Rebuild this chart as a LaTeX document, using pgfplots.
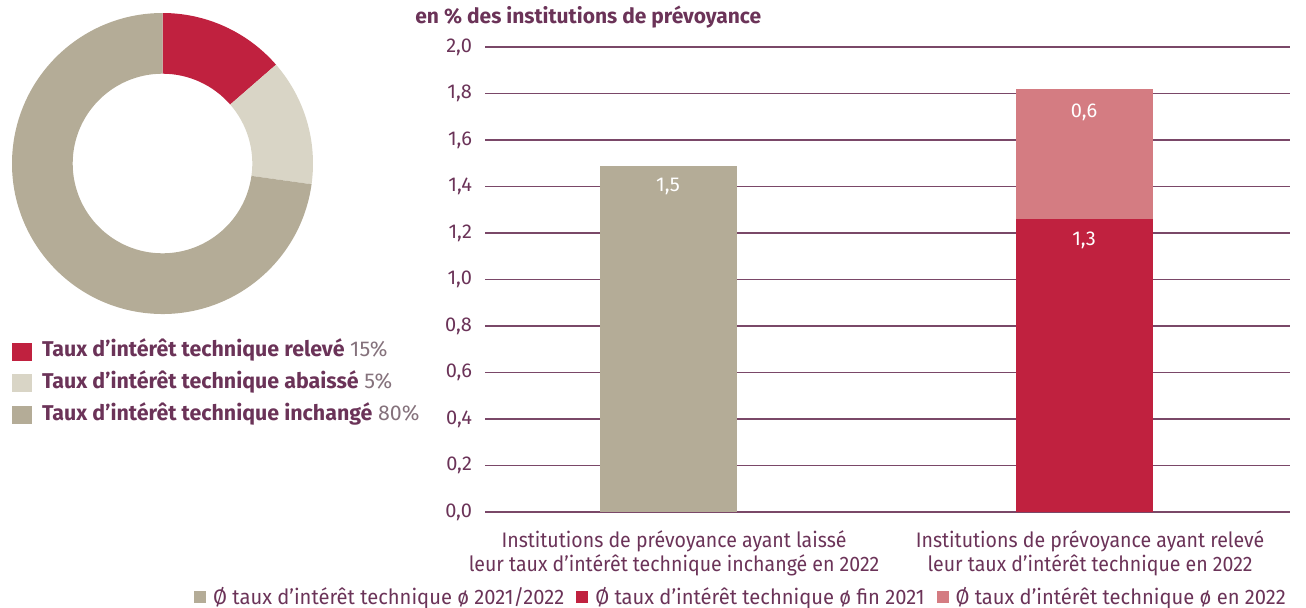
\documentclass[border=0pt]{standalone}
\usepackage{fontspec}
\setmainfont{Fira Sans}
\newfontfamily\condfont[FakeStretch=0.93]{Fira Sans}
\newfontfamily\legfont[FakeStretch=0.96]{Fira Sans}
\usepackage{pgfplots}
\pgfplotsset{compat=1.18}
\definecolor{cred}{HTML}{C0213F}
\definecolor{clight}{HTML}{D9D5C6}
\definecolor{ctan}{HTML}{B4AC97}
\definecolor{cpink}{HTML}{D47C82}
\definecolor{ctext}{HTML}{6B3358}
\definecolor{cgray}{HTML}{85727C}
\definecolor{cgrid}{HTML}{7A4868}
\begin{document}
\begin{tikzpicture}
\useasboundingbox (0,0) rectangle (653pt,303.5pt);
% ---------------- donut ----------------
\pgfmathsetmacro{\Ro}{75.25}
\pgfmathsetmacro{\Ri}{44.9}
\pgfmathsetmacro{\sA}{13.6}
\pgfmathsetmacro{\sB}{13.6}
\pgfmathsetmacro{\sC}{72.8}
\pgfmathsetmacro{\aA}{90-3.6*\sA}
\pgfmathsetmacro{\aB}{\aA-3.6*\sB}
\pgfmathsetmacro{\aC}{\aB-3.6*\sC}
\begin{axis}[at={(81.25pt,221.75pt)}, anchor=center, scale only axis,
  width=150.5pt, height=150.5pt, xmin=-1, xmax=1, ymin=-1, ymax=1, hide axis,
  legend cell align=left,
  legend style={at={(0,-0.095)}, anchor=north west, draw=none, fill=none,
    inner sep=0pt, outer sep=0pt, font=\fontsize{10.7}{11}\selectfont,
    text=ctext, row sep=6.9pt,
    nodes={inner sep=0pt, text height=7pt, text depth=2pt},
    /tikz/every odd column/.append style={column sep=5pt}},
  legend image code/.code={\fill[#1, draw=none] (0pt,-4.5pt) rectangle (10pt,4.5pt);}]
\addlegendimage{fill=cred, draw=none}
\addlegendentry{\textbf{Taux d’intérêt technique relevé} {\color{cgray}15\%}}
\addlegendimage{fill=clight, draw=none}
\addlegendentry{\textbf{Taux d’intérêt technique abaissé} {\color{cgray}5\%}}
\addlegendimage{fill=ctan, draw=none}
\addlegendentry{\textbf{Taux d’intérêt technique inchangé} {\color{cgray}80\%}}
\fill[cred] ([shift={(90:\Ro pt)}]axis cs:0,0) arc[start angle=90, end angle=\aA, radius=\Ro pt]
  -- ([shift={(\aA:\Ri pt)}]axis cs:0,0) arc[start angle=\aA, end angle=90, radius=\Ri pt] -- cycle;
\fill[clight] ([shift={(\aA:\Ro pt)}]axis cs:0,0) arc[start angle=\aA, end angle=\aB, radius=\Ro pt]
  -- ([shift={(\aB:\Ri pt)}]axis cs:0,0) arc[start angle=\aB, end angle=\aA, radius=\Ri pt] -- cycle;
\fill[ctan] ([shift={(\aB:\Ro pt)}]axis cs:0,0) arc[start angle=\aB, end angle=\aC, radius=\Ro pt]
  -- ([shift={(\aC:\Ri pt)}]axis cs:0,0) arc[start angle=\aC, end angle=\aB, radius=\Ri pt] -- cycle;
\end{axis}
% ---------------- bars ----------------
\node[anchor=west, text=ctext, font=\bfseries\fontsize{10.5}{12}\selectfont, inner sep=0pt] at (207.5pt,295pt) {en \% des institutions de prévoyance};
\begin{axis}[at={(242.5pt,47.5pt)}, anchor=south west, scale only axis,
  width=402.5pt, height=232.5pt, xmin=-0.44, xmax=1.495, ymin=0, ymax=2,
  ybar stacked, bar width=68.5pt,
  ytick={0,0.2,0.4,0.6,0.8,1,1.2,1.4,1.6,1.8,2},
  ymajorgrids, grid style={cgrid, line width=0.7pt},
  axis line style={draw=none}, major tick length=0pt,
  yticklabel style={/pgf/number format/fixed, /pgf/number format/fixed zerofill,
    /pgf/number format/precision=1, /pgf/number format/use comma,
    /pgf/number format/assume math mode=true,
    font=\fontsize{10}{12}\selectfont, text=ctext, xshift=-3pt},
  xtick={0,1},
  xticklabels={{Institutions de prévoyance ayant laissé\\leur taux d’intérêt technique inchangé en 2022},
               {Institutions de prévoyance ayant relevé\\leur taux d’intérêt technique en 2022}},
  xticklabel style={font=\condfont\fontsize{10.5}{10.5}\selectfont, align=center, text=ctext, yshift=-6pt, xshift=3pt},
  legend columns=3,
  legend style={at={(0.3168,-0.183)}, anchor=center, draw=none, fill=none, inner sep=0pt,
    font=\legfont\fontsize{10.5}{12}\selectfont, text=ctext,
    nodes={inner sep=0pt},
    /tikz/every odd column/.append style={column sep=3.5pt},
    /tikz/every even column/.append style={column sep=6pt}},
  legend image code/.code={\fill[#1] (0pt,-3pt) rectangle (6pt,3pt);}]
\addplot[fill=ctan, draw=none] coordinates {(0,1.49) (1,0)};
\addlegendentry{Ø taux d’intérêt technique ø 2021/2022}
\addplot[fill=cred, draw=none] coordinates {(0,0) (1,1.26)};
\addlegendentry{Ø taux d’intérêt technique ø fin 2021}
\addplot[fill=cpink, draw=none] coordinates {(0,0) (1,0.56)};
\addlegendentry{Ø taux d’intérêt technique ø en 2022}
\coordinate (LA) at (axis cs:0,1.49);
\coordinate (LB) at (axis cs:1,1.26);
\coordinate (LC) at (axis cs:1,1.82);
\end{axis}
\node[text=white, font=\fontsize{10}{12}\selectfont, yshift=-10.5pt] at (LA) {1,5};
\node[text=white, font=\fontsize{10}{12}\selectfont, yshift=-10.5pt] at (LB) {1,3};
\node[text=white, font=\fontsize{10}{12}\selectfont, yshift=-12pt] at (LC) {0,6};
\end{tikzpicture}
\end{document}
